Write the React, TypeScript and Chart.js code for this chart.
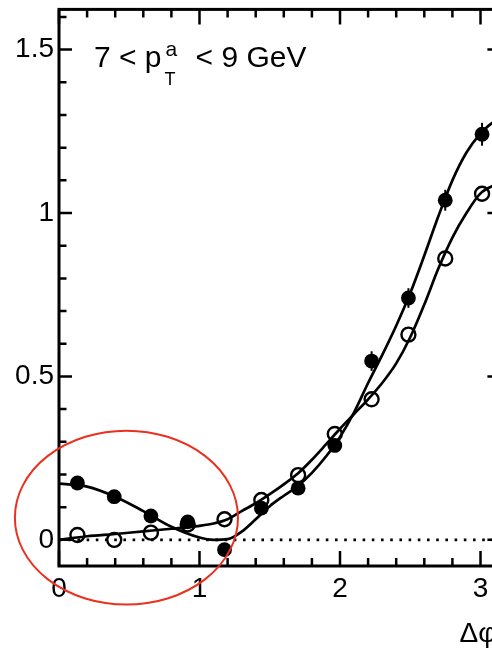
import React, { useEffect, useRef } from "react";
import { Chart, registerables } from "chart.js";

Chart.register(...registerables);

// Δφ bin centres (rad)
const binCenters = [0.131, 0.393, 0.654, 0.916, 1.178, 1.44, 1.702, 1.963, 2.225, 2.487, 2.749, 3.011];
// filled markers
const filledValues = [0.174, 0.132, 0.073, 0.055, -0.03, 0.097, 0.158, 0.289, 0.547, 0.74, 1.039, 1.241];
const filledErrors = [0.012, 0.012, 0.012, 0.015, 0.015, 0.012, 0.012, 0.018, 0.03, 0.03, 0.032, 0.035];
// open markers
const openValues = [0.015, 0.0, 0.022, 0.047, 0.063, 0.122, 0.198, 0.324, 0.43, 0.628, 0.861, 1.059];

// fit curves
const curveX = [0, 0.2, 0.4, 0.6, 0.8, 1.0, 1.1, 1.2, 1.3, 1.4, 1.5, 1.6, 1.7, 1.8, 1.9, 2.0, 2.1, 2.2, 2.3, 2.4, 2.5, 2.6, 2.7, 2.8, 2.9, 3.0, 3.1, 3.1416];
const filledFit = [0.172, 0.163, 0.132, 0.088, 0.04, 0.007, 0.0, 0.002, 0.025, 0.063, 0.103, 0.135, 0.165, 0.205, 0.255, 0.315, 0.39, 0.48, 0.565, 0.655, 0.755, 0.87, 0.99, 1.1, 1.185, 1.243, 1.28, 1.285];
const openFit = [0.0, 0.011, 0.018, 0.026, 0.034, 0.043, 0.05, 0.063, 0.088, 0.112, 0.14, 0.17, 0.203, 0.245, 0.292, 0.34, 0.385, 0.43, 0.48, 0.54, 0.62, 0.72, 0.83, 0.925, 1.0, 1.06, 1.085, 1.09];

// axes
const xMin = 0;
const xMax = 3.1416;
const yMin = -0.08;
const yMax = 1.623;
const xTicks = [0, 0.2, 0.4, 0.6, 0.8, 1, 1.2, 1.4, 1.6, 1.8, 2, 2.2, 2.4, 2.6, 2.8, 3];
const xMajorTicks = [0, 1, 2, 3];
const xMajorLabels = ["0", "1", "2", "3"];
const yTicks = [0, 0.1, 0.2, 0.3, 0.4, 0.5, 0.6, 0.7, 0.8, 0.9, 1, 1.1, 1.2, 1.3, 1.4, 1.5, 1.6];
const yMajorTicks = [0, 0.5, 1, 1.5];
const yMajorLabels = ["0", "0.5", "1", "1.5"];

// highlighted region (ellipse) in data units
const ellipseCenter = [0.48, 0.068];
const ellipseRadii = [0.794, 0.266];

const FONT = "'Liberation Sans', Arial, Helvetica, sans-serif";

const decorPlugin = {
  id: "decor",
  afterDatasetsDraw(chart: any) {
    const { ctx, chartArea, scales } = chart;
    const xs = scales.x;
    const ys = scales.y;
    const { left, right, top, bottom } = chartArea;
    ctx.save();
    // error bars of filled markers
    ctx.strokeStyle = "#000";
    ctx.lineWidth = 2;
    binCenters.forEach((x, i) => {
      const px = xs.getPixelForValue(x);
      ctx.beginPath();
      ctx.moveTo(px, ys.getPixelForValue(filledValues[i] - filledErrors[i]));
      ctx.lineTo(px, ys.getPixelForValue(filledValues[i] + filledErrors[i]));
      ctx.stroke();
    });
    // frame
    ctx.lineWidth = 3;
    ctx.strokeRect(left, top, right - left, bottom - top);
    // ticks
    ctx.lineWidth = 2.5;
    xTicks.forEach((v) => {
      const px = xs.getPixelForValue(v);
      const len = xMajorTicks.includes(v) ? 15 : 8;
      ctx.beginPath();
      ctx.moveTo(px, bottom);
      ctx.lineTo(px, bottom - len);
      ctx.moveTo(px, top);
      ctx.lineTo(px, top + len);
      ctx.stroke();
    });
    yTicks.forEach((v) => {
      const py = ys.getPixelForValue(v);
      const len = yMajorTicks.includes(v) ? 13 : 7.5;
      ctx.beginPath();
      ctx.moveTo(left, py);
      ctx.lineTo(left + len, py);
      ctx.moveTo(right, py);
      ctx.lineTo(right - len, py);
      ctx.stroke();
    });
    ctx.restore();
  },
  afterDraw(chart: any) {
    const { ctx, chartArea, scales } = chart;
    const xs = scales.x;
    const ys = scales.y;
    const { left, top, bottom } = chartArea;
    ctx.save();
    ctx.fillStyle = "#000";
    ctx.textBaseline = "alphabetic";
    ctx.textAlign = "left";
    // panel label: 7 < p_T^a < 9 GeV
    const bx = left + 35;
    const by = top + 57.5;
    ctx.font = `30px ${FONT}`;
    const part1 = "7 < p";
    ctx.fillText(part1, bx, by);
    const w1 = ctx.measureText(part1).width;
    ctx.font = `21px ${FONT}`;
    ctx.fillText("a", bx + w1 + 4, by - 10.5);
    ctx.font = `18px ${FONT}`;
    ctx.fillText("T", bx + w1 + 3, by + 18.5);
    ctx.font = `30px ${FONT}`;
    ctx.fillText("< 9 GeV", bx + w1 + 34, by);
    // axis title
    ctx.font = `28px ${FONT}`;
    ctx.fillText("Δφ", left + 400.5, bottom + 76);
    // red ellipse
    const cx = xs.getPixelForValue(ellipseCenter[0]);
    const cy = ys.getPixelForValue(ellipseCenter[1]);
    const rx = xs.getPixelForValue(ellipseCenter[0] + ellipseRadii[0]) - cx;
    const ry = cy - ys.getPixelForValue(ellipseCenter[1] + ellipseRadii[1]);
    ctx.strokeStyle = "rgb(234,48,30)";
    ctx.lineWidth = 2;
    ctx.beginPath();
    ctx.ellipse(cx, cy, rx, ry, 0, 0, Math.PI * 2);
    ctx.stroke();
    ctx.restore();
  },
};

export default function App() {
  const ref = useRef<HTMLCanvasElement>(null);
  useEffect(() => {
    const canvas = ref.current;
    if (!canvas) return;
    const chart = new Chart(canvas, {
      type: "scatter",
      data: {
        datasets: [
          {
            label: "filled",
            data: binCenters.map((x, i) => ({ x, y: filledValues[i] })),
            pointRadius: 7.4,
            pointBackgroundColor: "#000",
            pointBorderColor: "#000",
            pointBorderWidth: 0,
            showLine: false,
            order: 0,
          },
          {
            label: "open",
            data: binCenters.map((x, i) => ({ x, y: openValues[i] })),
            pointRadius: 7,
            pointBackgroundColor: "rgba(0,0,0,0)",
            pointBorderColor: "#000",
            pointBorderWidth: 2.4,
            showLine: false,
            order: 1,
          },
          {
            label: "filled fit",
            data: curveX.map((x, i) => ({ x, y: filledFit[i] })),
            showLine: true,
            pointRadius: 0,
            borderColor: "#000",
            borderWidth: 2.7,
            cubicInterpolationMode: "monotone",
            order: 2,
          },
          {
            label: "open fit",
            data: curveX.map((x, i) => ({ x, y: openFit[i] })),
            showLine: true,
            pointRadius: 0,
            borderColor: "#000",
            borderWidth: 2.7,
            cubicInterpolationMode: "monotone",
            order: 2,
          },
          {
            label: "zero",
            data: [
              { x: xMin, y: 0 },
              { x: xMax, y: 0 },
            ],
            showLine: true,
            pointRadius: 0,
            borderColor: "#000",
            borderWidth: 2.7,
            borderDash: [2.6, 6.6],
            order: 3,
          },
        ],
      },
      options: {
        animation: false,
        responsive: false,
        events: [],
        layout: { padding: { top: 6, right: 19.6, left: 0, bottom: 0 } },
        plugins: { legend: { display: false }, tooltip: { enabled: false } },
        scales: {
          x: {
            type: "linear",
            min: xMin,
            max: xMax,
            afterBuildTicks: (s: any) => {
              s.ticks = xTicks.map((v) => ({ value: v }));
            },
            afterFit: (s: any) => {
              s.height = 86;
              s.paddingLeft = 0;
              s.paddingRight = 0;
            },
            grid: { display: false, drawTicks: false },
            border: { display: false },
            ticks: {
              autoSkip: false,
              maxRotation: 0,
              padding: 6,
              color: "#000",
              font: { family: FONT, size: 28 },
              callback: (v: any) => {
                const k = xMajorTicks.indexOf(v);
                return k >= 0 ? xMajorLabels[k] : "";
              },
            },
          },
          y: {
            type: "linear",
            min: yMin,
            max: yMax,
            afterBuildTicks: (s: any) => {
              s.ticks = yTicks.map((v) => ({ value: v }));
            },
            afterFit: (s: any) => {
              s.width = 59;
              s.paddingTop = 0;
              s.paddingBottom = 0;
            },
            grid: { display: false, drawTicks: false },
            border: { display: false },
            ticks: {
              autoSkip: false,
              padding: 5,
              color: "#000",
              font: { family: FONT, size: 28 },
              callback: (v: any) => {
                const k = yMajorTicks.indexOf(v);
                return k >= 0 ? yMajorLabels[k] : "";
              },
            },
          },
        },
      },
      plugins: [decorPlugin],
    } as any);
    return () => chart.destroy();
  }, []);
  return (
    <div
      style={{
        position: "absolute",
        left: 0,
        top: 0,
        width: 492,
        height: 652,
        overflow: "hidden",
        background: "#fff",
      }}
    >
      <canvas ref={ref} width={520} height={652} style={{ display: "block", width: 520, height: 652 }} />
    </div>
  );
}
